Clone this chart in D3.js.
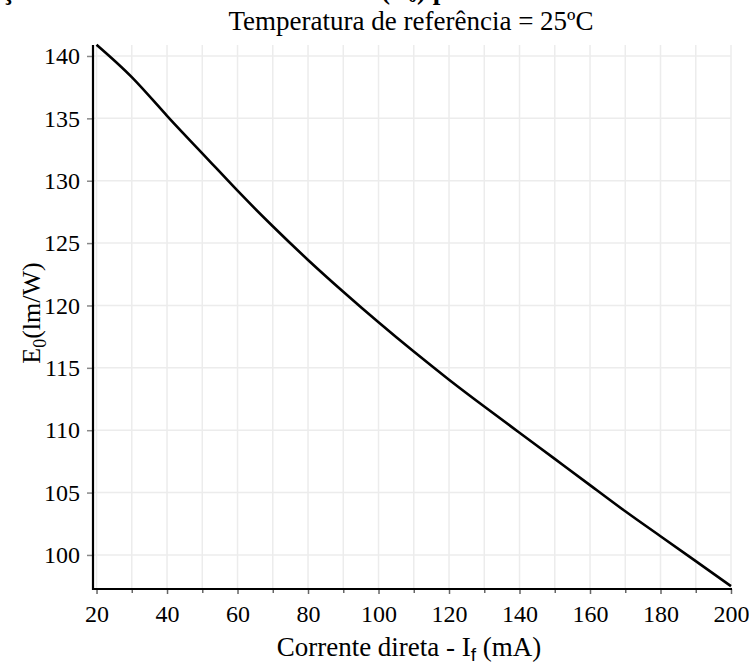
<!DOCTYPE html>
<html><head><meta charset="utf-8">
<script src="https://cdn.jsdelivr.net/npm/d3@7/dist/d3.min.js"></script>
<style>
body{margin:0;background:#fff;}
text{font-family:"Liberation Serif","Times New Roman",serif;fill:#000;}
</style></head>
<body><svg id="c" width="749" height="666"></svg>
<script>
const current = [20,30,40,50,60,70,80,90,100,110,120,130,140,150,160,170,180,190,200];
const efficacy = [140.9,138.3,135.2,132.2,129.2,126.35,123.65,121.1,118.65,116.3,114.05,111.9,109.8,107.7,105.6,103.5,101.5,99.5,97.5];
const xTickLabels = [20,40,60,80,100,120,140,160,180,200];
const xMinorTicks = [30,50,70,90,110,130,150,170,190];
const yTickLabels = [100,105,110,115,120,125,130,135,140];
const xGrid = d3.range(20,201,10);

const svg = d3.select("#c");
const L=93, R=731, T=45, B=589;
const x = d3.scaleLinear().domain([19,200]).range([L,R]);
const y = d3.scaleLinear().domain([97.27,140.88]).range([B,T]);

// clipped title line above (only its lowest part shows)
svg.append("text").attr("x",2).attr("y",-1).attr("font-size",27).attr("font-weight","bold").text("ção");
const t0 = svg.append("text").attr("x",381).attr("y",-1).attr("font-size",27).attr("font-weight","bold");
t0.append("tspan").text("(E");
t0.append("tspan").attr("font-size",18).attr("dy",3).text("0");
t0.append("tspan").attr("dy",-3).text(") para");

svg.append("text").attr("x",411).attr("y",30).attr("text-anchor","middle").attr("font-size",27)
  .text("Temperatura de referência = 25ºC");

// grid
svg.append("g").selectAll("line").data(xGrid).join("line")
  .attr("x1",d=>x(d)).attr("x2",d=>x(d)).attr("y1",T).attr("y2",B)
  .attr("stroke","#ececec").attr("stroke-width",1.5);
svg.append("g").selectAll("line").data(yTickLabels).join("line")
  .attr("x1",L).attr("x2",R).attr("y1",d=>y(d)).attr("y2",d=>y(d))
  .attr("stroke","#ececec").attr("stroke-width",1.5);

// x axis
const xAxis = svg.append("g").attr("transform",`translate(0,${B})`)
  .call(d3.axisBottom(x).tickValues(xTickLabels).tickSize(5).tickPadding(11).tickFormat(d3.format("d")));
xAxis.select(".domain").remove();
xAxis.selectAll(".tick line").attr("stroke","#666").attr("stroke-width",1.5);
xAxis.selectAll("text").attr("font-size",24).attr("font-family","Liberation Serif");
svg.append("g").attr("transform",`translate(0,${B})`)
  .call(d3.axisBottom(x).tickValues(xMinorTicks).tickSize(4).tickFormat(""))
  .call(g=>{g.select(".domain").remove(); g.selectAll("line").attr("stroke","#666").attr("stroke-width",1.5);});

// y axis
const yAxis = svg.append("g").attr("transform",`translate(${L},0)`)
  .call(d3.axisLeft(y).tickValues(yTickLabels).tickSize(6).tickPadding(7).tickFormat(d3.format("d")));
yAxis.select(".domain").remove();
yAxis.selectAll(".tick line").attr("stroke","#888").attr("stroke-width",1.5);
yAxis.selectAll("text").attr("font-size",24).attr("font-family","Liberation Serif");

// axis lines
svg.append("line").attr("x1",L).attr("x2",L).attr("y1",T).attr("y2",B+1).attr("stroke","#000").attr("stroke-width",2.2);
svg.append("line").attr("x1",L-1).attr("x2",R+1).attr("y1",B).attr("y2",B).attr("stroke","#000").attr("stroke-width",2.2);

// curve
const pts = current.map((c,i)=>[c,efficacy[i]]);
svg.append("path").datum(pts)
  .attr("d",d3.line().x(d=>x(d[0])).y(d=>y(d[1])).curve(d3.curveNatural))
  .attr("fill","none").attr("stroke","#000").attr("stroke-width",2.6);

// axis labels
const xl = svg.append("text").attr("x",409).attr("y",656).attr("text-anchor","middle").attr("font-size",27);
xl.append("tspan").text("Corrente direta - I");
xl.append("tspan").attr("font-size",19).attr("dy",5).attr("font-family","Liberation Sans").text("f");
xl.append("tspan").attr("dy",-5).text(" (mA)");

const yl = svg.append("text").attr("transform","translate(40,313) rotate(-90)").attr("text-anchor","middle").attr("font-size",26);
yl.append("tspan").text("E");
yl.append("tspan").attr("font-size",18).attr("dy",6).text("0");
yl.append("tspan").attr("dy",-6).text("(lm/W)");
</script></body></html>
